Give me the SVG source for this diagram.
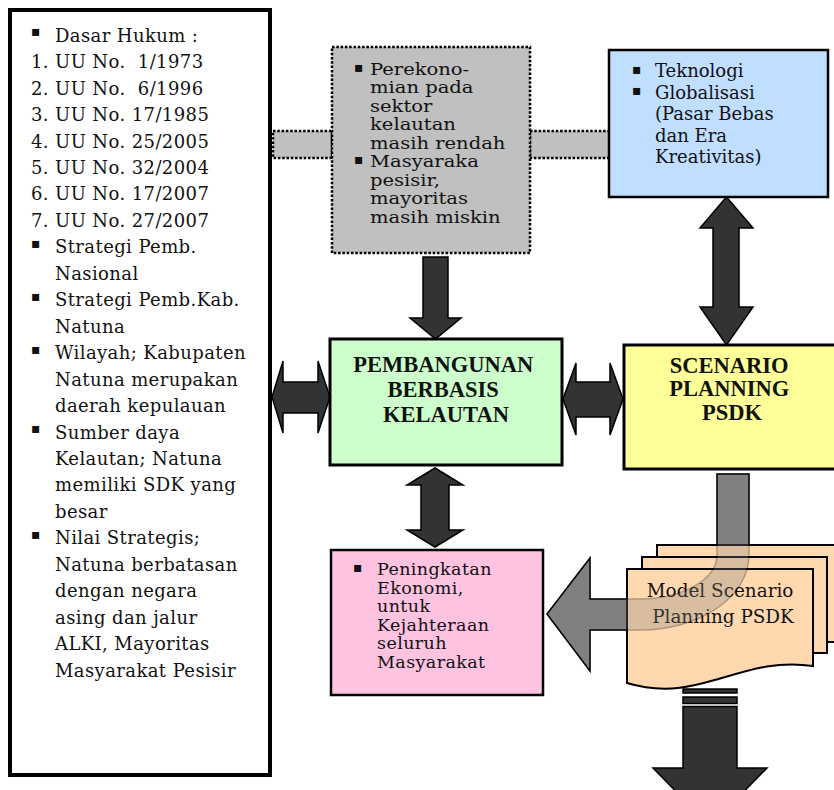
<svg xmlns="http://www.w3.org/2000/svg" xmlns:xlink="http://www.w3.org/1999/xlink" width="834" height="790" viewBox="0 0 834 790">
  <style>
    .t { font-family: "DejaVu Serif", "Liberation Serif", serif; fill: #111; }
    .bul { font-family: "DejaVu Sans", sans-serif; font-size: 14px; fill: #111; }
    .hd { font-family: "Liberation Serif", "DejaVu Serif", serif; font-weight: bold; font-size: 22.5px; text-anchor: middle; fill: #111; }
    .dark { fill: #333333; stroke: #000; stroke-width: 1.5; stroke-linejoin: miter; }
    .dot { fill: #c0c0c0; stroke: #000; stroke-width: 2.5; stroke-dasharray: 2.5 1.8; }
    .box { stroke: #000; }
    .doc { fill: #ffd8b0; stroke: #000; stroke-width: 2; stroke-linejoin: miter; }
  </style>
  <defs>
    <!-- curved arrow: from the scenario box down, bending left into the impact box -->
    <path id="bend" d="M717,474 L749,474 L749,555 A109,75 0 0 1 640,630 L590,630 L590,671 L547,614 L590,558 L590,599 L640,599 A77,44 0 0 0 717,555 Z"/>
  </defs>

  <rect width="834" height="790" fill="#fff"/>

  <!-- connectors -->
  <g id="connectors">
    <rect class="dot" x="273" y="131" width="59" height="27"/>
    <rect class="dot" x="530" y="131" width="80" height="27"/>
    <!-- left box <-> pembangunan -->
    <path class="dark" d="M272,397 L283,361 L283,382 L318,382 L318,361 L330,397 L318,433 L318,413 L283,413 L283,433 Z"/>
    <!-- pembangunan <-> scenario -->
    <path class="dark" d="M563,399 L576,363 L576,382 L610,382 L610,363 L623,399 L610,435 L610,417 L576,417 L576,435 Z"/>
    <!-- problems -> pembangunan -->
    <path class="dark" d="M423,257 L448,257 L448,318 L461,318 L435.5,339 L410,318 L423,318 Z"/>
    <!-- technology <-> scenario -->
    <path class="dark" d="M726.5,197 L753,228 L739,228 L739,307 L753,307 L726.5,345 L700,307 L713,307 L713,228 L700,228 Z"/>
    <!-- pembangunan <-> peningkatan -->
    <path class="dark" d="M435,468 L463,485 L449,485 L449,530 L463,530 L435,547 L407,530 L421,530 L421,485 L407,485 Z"/>
    <!-- model -> onward -->
    <rect class="dark" x="683" y="689" width="54" height="4"/>
    <rect class="dark" x="683" y="697" width="54" height="6.5"/>
    <path class="dark" d="M683,706.5 L737,706.5 L737,768 L767,768 L710,826 L653,768 L683,768 Z"/>
    <use xlink:href="#bend" fill="#808080" stroke="#000" stroke-width="1.5"/>
  </g>

  <!-- legal basis and regional facts -->
  <g id="dasar">
    <rect class="box" x="10" y="10" width="260" height="765" fill="#fff" stroke-width="4"/>
    <g class="bul">
      <text x="31" y="36.2">▪</text>
      <text x="31" y="247.8">▪</text>
      <text x="31" y="300.7">▪</text>
      <text x="31" y="353.6">▪</text>
      <text x="31" y="433">▪</text>
      <text x="31" y="538.8">▪</text>
    </g>
    <text class="t" font-size="18" letter-spacing="0.4" xml:space="preserve">
      <tspan x="55" y="41.7">Dasar Hukum :</tspan>
      <tspan x="31" y="68.2">1. UU No.  1/1973</tspan>
      <tspan x="31" y="94.6">2. UU No.  6/1996</tspan>
      <tspan x="31" y="121.1">3. UU No. 17/1985</tspan>
      <tspan x="31" y="147.5">4. UU No. 25/2005</tspan>
      <tspan x="31" y="174">5. UU No. 32/2004</tspan>
      <tspan x="31" y="200.4">6. UU No. 17/2007</tspan>
      <tspan x="31" y="226.9">7. UU No. 27/2007</tspan>
      <tspan x="55" y="253.3">Strategi Pemb.</tspan>
      <tspan x="55" y="279.8">Nasional</tspan>
      <tspan x="55" y="306.2">Strategi Pemb.Kab.</tspan>
      <tspan x="55" y="332.7">Natuna</tspan>
      <tspan x="55" y="359.1">Wilayah; Kabupaten</tspan>
      <tspan x="55" y="385.6">Natuna merupakan</tspan>
      <tspan x="55" y="412">daerah kepulauan</tspan>
      <tspan x="55" y="438.5">Sumber daya</tspan>
      <tspan x="55" y="464.9">Kelautan; Natuna</tspan>
      <tspan x="55" y="491.4">memiliki SDK yang</tspan>
      <tspan x="55" y="517.8">besar</tspan>
      <tspan x="55" y="544.3">Nilai Strategis;</tspan>
      <tspan x="55" y="570.7">Natuna berbatasan</tspan>
      <tspan x="55" y="597.2">dengan negara</tspan>
      <tspan x="55" y="623.6">asing dan jalur</tspan>
      <tspan x="55" y="650.1">ALKI, Mayoritas</tspan>
      <tspan x="55" y="676.5">Masyarakat Pesisir</tspan>
    </text>
  </g>

  <!-- current conditions -->
  <g id="kondisi">
    <rect class="dot" x="332" y="47" width="198" height="206"/>
    <g class="bul">
      <text x="354" y="71.5">▪</text>
      <text x="354" y="163.8">▪</text>
    </g>
    <text class="t" font-size="17" transform="translate(370 0) scale(1.15 1)">
      <tspan x="0" y="75">Perekono-</tspan>
      <tspan x="0" y="93.5">mian pada</tspan>
      <tspan x="0" y="112">sektor</tspan>
      <tspan x="0" y="130.4">kelautan</tspan>
      <tspan x="0" y="148.8">masih rendah</tspan>
      <tspan x="0" y="167.3">Masyaraka</tspan>
      <tspan x="0" y="185.8">pesisir,</tspan>
      <tspan x="0" y="204.2">mayoritas</tspan>
      <tspan x="0" y="222.7">masih miskin</tspan>
    </text>
  </g>

  <!-- external drivers -->
  <g id="teknologi">
    <rect class="box" x="609" y="50" width="219" height="147" fill="#c0deff" stroke-width="2.5"/>
    <g class="bul">
      <text x="632" y="73.5">▪</text>
      <text x="632" y="95">▪</text>
    </g>
    <text class="t" font-size="18">
      <tspan x="655" y="77">Teknologi</tspan>
      <tspan x="655" y="98.5">Globalisasi</tspan>
      <tspan x="655" y="120">(Pasar Bebas</tspan>
      <tspan x="655" y="141.5">dan Era</tspan>
      <tspan x="655" y="163">Kreativitas)</tspan>
    </text>
  </g>

  <!-- core concept -->
  <g id="pembangunan">
    <rect class="box" x="330" y="339" width="232" height="126" fill="#ccffcc" stroke-width="3"/>
    <text class="hd">
      <tspan x="446" y="372">PEMBANGUNAN</tspan>
      <tspan x="446" y="397">BERBASIS</tspan>
      <tspan x="446" y="422">KELAUTAN</tspan>
    </text>
  </g>

  <g id="scenario">
    <rect class="box" x="624" y="345" width="220" height="124" fill="#ffff99" stroke-width="3"/>
    <text class="hd" font-size="21">
      <tspan x="732" y="372.5">SCENARIO</tspan>
      <tspan x="732" y="396">PLANNING</tspan>
      <tspan x="732" y="419.5">PSDK</tspan>
    </text>
  </g>

  <!-- outcome -->
  <g id="peningkatan">
    <rect class="box" x="331" y="550" width="212" height="145" fill="#ffc3e2" stroke-width="2.5"/>
    <g class="bul">
      <text x="353" y="571.5">▪</text>
    </g>
    <text class="t" font-size="17.5" letter-spacing="0.4">
      <tspan x="377" y="575">Peningkatan</tspan>
      <tspan x="377" y="593.5">Ekonomi,</tspan>
      <tspan x="377" y="612">untuk</tspan>
      <tspan x="377" y="630.5">Kejahteraan</tspan>
      <tspan x="377" y="649">seluruh</tspan>
      <tspan x="377" y="667.5">Masyarakat</tspan>
    </text>
  </g>

  <!-- model document stack -->
  <g id="model">
    <path class="doc" d="M657,557 L657,545 L841,545 L841,642 L827,642 L827,557 Z"/>
    <path class="doc" d="M642,569 L642,557 L827,557 L827,653 L813,653 L813,569 Z"/>
    <path class="doc" d="M627,569 L813,569 L813,666 C740,655 700,705 627,683 Z"/>
    <text class="t" font-size="18.4" text-anchor="middle">
      <tspan x="723" y="597">Model Scenario</tspan>
      <tspan x="723" y="623">Planning PSDK</tspan>
    </text>
  </g>

  <!-- the bend shows faintly through the documents -->
  <g id="connector-overlay" opacity="0.3">
    <use xlink:href="#bend" fill="#808080" stroke="#000" stroke-width="1.5"/>
  </g>
</svg>
